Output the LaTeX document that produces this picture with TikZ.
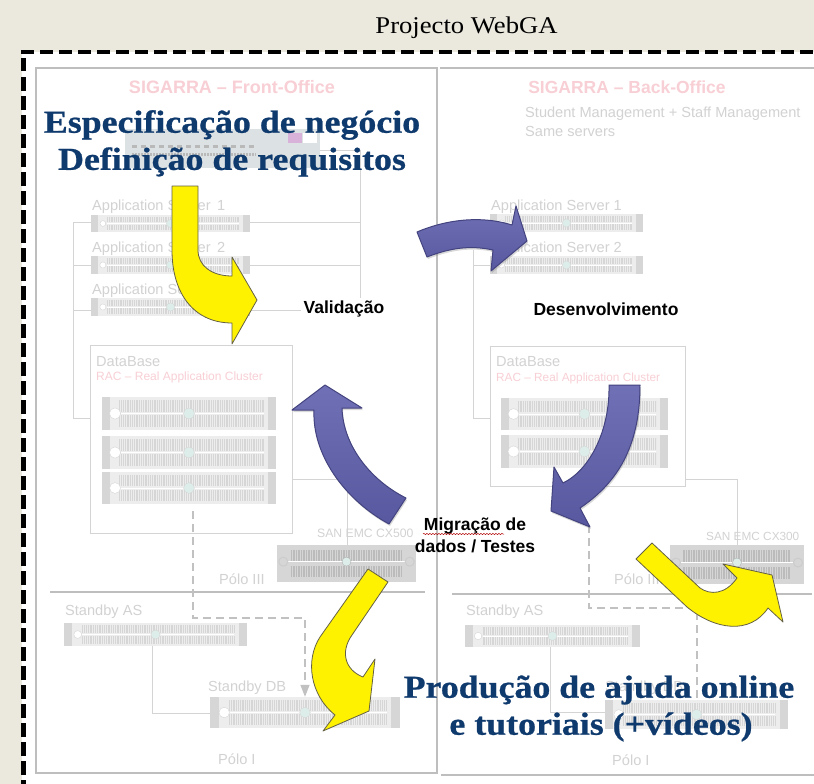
\documentclass[tikz,border=0pt]{standalone}
\usepackage{fontspec}
\setmainfont{Liberation Serif}
\setsansfont{Liberation Sans}
\newfontface\bigf{Liberation Serif Bold}[FakeBold=0.7]
\usetikzlibrary{fit,calc,shadows,arrows.meta,decorations.pathmorphing}
\definecolor{pagebg}{HTML}{EBE8DD}
\definecolor{faint}{HTML}{D4D4D4}
\definecolor{panelc}{HTML}{BEBEBE}
\definecolor{srvc}{HTML}{EDEDED}
\definecolor{srvd}{HTML}{D6D6D6}
\definecolor{pinkc}{HTML}{F8CFD5}
\definecolor{greyt}{HTML}{D2D2D2}
\definecolor{navy}{HTML}{0F3A6E}
\definecolor{bluetop}{HTML}{7070B6}
\definecolor{bluebot}{HTML}{5858A0}
\definecolor{blueedge}{HTML}{43437F}
\definecolor{mint}{HTML}{DDEEEA}
\tikzset{
  x=1pt,y=-1pt,
  srvbox/.style={fill=srvc,draw=none,inner sep=0pt},
  wire/.style={draw=faint,line width=.9pt},
  dashwire/.style={draw=srvd!90!black,line width=1.3pt,dash pattern=on 8pt off 5pt},
  panel/.style={draw=panelc,line width=1.1pt},
  dbbox/.style={draw=faint,line width=1pt,fill=white,inner sep=0pt},
  lbl/.style={font=\sffamily\fontsize{14.6}{15}\selectfont,text=greyt,anchor=west,inner sep=0pt,yshift=-1.5pt},
  rac/.style={font=\sffamily\fontsize{12}{13}\selectfont,text=pinkc,anchor=west,inner sep=0pt,yshift=-1pt},
  headt/.style={font=\sffamily\bfseries\fontsize{18}{19}\selectfont,text=pinkc,inner sep=0pt},
  blk/.style={font=\sffamily\bfseries\fontsize{17.5}{19}\selectfont,text=black,inner sep=0pt},
  bigt/.style={font=\bigf\fontsize{32}{36}\selectfont,text=navy,inner sep=0pt,xscale=1.12,yshift=-2pt},
  yarrow/.style={fill=yellow,draw=black!70!yellow,line width=.8pt,line join=round},
  barrow/.style={top color=bluetop,bottom color=bluebot,
     draw=blueedge,line width=1pt,line join=round,drop shadow={shadow xshift=1pt,shadow yshift=-2pt,opacity=.3}},
}
\newcommand{\srv}[5]{%
  \node[srvbox,fit={(#2,#3) (#4,#5)}] (#1) {};
  \pgfmathsetmacro{\srvw}{#4-#2}\pgfmathsetmacro{\srvh}{#5-#3}
  \fill[srvd] (#2,#3) rectangle ({#2+.045*\srvw},#5);
  \fill[srvd] ({#4-.045*\srvw},#3) rectangle (#4,#5);
  \foreach \f in {.27,.73}{
    \draw[draw=srvd,line width={.34*\srvh*1pt},dash pattern=on .9pt off .9pt]
      ({#2+.1*\srvw},{#3+\f*\srvh}) -- ({#4-.07*\srvw},{#3+\f*\srvh});}
  \fill[white] ({#2+.1*\srvw},{#3+.5*\srvh-.5}) rectangle ({#4-.07*\srvw},{#3+.5*\srvh+.5});
  \fill[mint,draw=srvd] ({#2+.5*\srvw},{#3+.5*\srvh}) circle ({.09*\srvh+2.5});
  \fill[white,draw=srvd] ({#2+.075*\srvw},{#3+.5*\srvh}) circle ({.17*\srvh});
}
\newcommand{\sandev}[5]{%
  \node[fill=srvd,draw=none,inner sep=0pt,fit={(#2,#3) (#4,#5)}] (#1) {};
  \pgfmathsetmacro{\srvw}{#4-#2}\pgfmathsetmacro{\srvh}{#5-#3}
  \draw[draw=faint!70!gray,line width={.3*\srvh*1pt},dash pattern=on 1.5pt off 1pt]
    ({#2+.1*\srvw},{#3+.28*\srvh}) -- ({#4-.1*\srvw},{#3+.28*\srvh})
    ({#2+.1*\srvw},{#3+.72*\srvh}) -- ({#4-.1*\srvw},{#3+.72*\srvh});
  \draw[white,line width=.9pt] ({#2+.08*\srvw},{#3+.45*\srvh}) -- ({#4-.08*\srvw},{#3+.45*\srvh});
  \fill[mint,draw=gray!60] ({#2+.5*\srvw},{#3+.45*\srvh}) circle (4.5);
  \draw[gray!40,line width=1pt] ({#2+.045*\srvw},{#3+.45*\srvh}) circle (4.5);
  \draw[gray!40,line width=1pt] ({#4-.045*\srvw},{#3+.45*\srvh}) circle (4.5);
}
\begin{document}
\begin{tikzpicture}
\useasboundingbox (0,0) rectangle (814,784);
\fill[pagebg] (0,0) rectangle (814,784);
\fill[white] (22,52) rectangle (814,784);
\node[font=\fontsize{24}{26}\selectfont,inner sep=0pt,xscale=1.11] (title) at (466.5,28) {Projecto WebGA};
\coordinate (fa) at (814,52); \coordinate (fc) at (23.5,784);
\draw[line width=4pt,dash pattern=on 13pt off 6pt] (21,52) -- (fa);
\draw[line width=4.5pt,dash pattern=on 13.5pt off 5.5pt] (23.5,58) -- (fc);
% panels
\node[panel,fit={(36,68) (437,773)},inner sep=0pt] (front) {};
\coordinate (ba) at (440,68); \coordinate (bb) at (814,68);
\coordinate (bc) at (441,775); \coordinate (bd) at (814,775);
\draw[panel] (ba) -- (bb); \draw[panel] (bc) -- (bd);
\node[headt] (fhead) at (232,87) {SIGARRA -- Front-Office};
\node[headt,font=\sffamily\bfseries\fontsize{17.5}{19}\selectfont] (bhead) at (627,87) {SIGARRA -- Back-Office};
\node[lbl] (bsub1) at (525,112) {Student Management + Staff Management};
\node[lbl] (bsub2) at (525,130) {Same servers};
% top switch, front
\node[fit={(125,129) (320,168)},fill=cyan!12!gray!28,inner sep=0pt] (sw) {};
\fill[violet!30] (288,133) rectangle (302,143);
\fill[white] (303,133) rectangle (317,143);
\draw[gray!55,line width=3pt,dash pattern=on 5pt off 4pt] (132,146) -- (256,146);
\draw[gray!55,line width=3pt,dash pattern=on 2pt off 1pt] (132,154) -- (256,154);
% left wires
\coordinate (rbus) at (360,150); \coordinate (rbusb) at (360,310);
\coordinate (lbus) at (73,222);
\draw[wire] (sw.east |- rbus) -- (rbus) -- (rbusb) -- (73,310);
\draw[wire] (360,222) -- (lbus) -- (73,418) -- (90,418);
\draw[wire] (360,265) -- (73,265);
\node[lbl] (l1) at (92,205) {Application Server\, 1};
\node[lbl] (l2) at (92,247) {Application Server\, 2};
\node[lbl] (l3) at (92,289) {Application Server\, 3};
\srv{as1}{91}{215}{250}{232}
\srv{as2}{91}{256}{250}{274}
\srv{as3}{91}{298}{250}{316}
\node[dbbox,fit={(90.5,345) (292,533)}] (db) {};
\node[lbl] (dbl) at (96,360) {DataBase};
\node[rac] (racl) at (96,376) {RAC -- Real Application Cluster};
\srv{d1}{102}{397}{276}{430}
\srv{d2}{102}{436}{276}{469}
\srv{d3}{102}{472}{276}{504}
\coordinate (sanjl) at (347,479);
\sandev{san}{277}{545}{416}{582}
\draw[wire] (db.east |- sanjl) -- (sanjl) -- (sanjl |- san.north);
\node[lbl,font=\sffamily\fontsize{12.2}{14}\selectfont] (sanl) at (317,532) {SAN EMC CX500};
\node[lbl] (p3) at (219,578) {Pólo III};
\coordinate (sa) at (50,592); \coordinate (sb) at (425,592);
\draw[panel] (sa) -- (sb);
\coordinate (da) at (193,511); \coordinate (db1) at (193,618); \coordinate (db2) at (305,618);
\srv{sas}{64}{623}{247}{646}
\node[lbl] (sasl) at (65,610) {Standby AS};
\srv{sdb}{210}{697}{400}{728}
\node[lbl] (sdbl) at (208,686) {Standby DB};
\draw[dashwire,-{Triangle[length=12pt,width=9pt]}] (da) -- (db1) -- (db2) -- (db2 |- sdb.north);
\coordinate (sj1) at (152,713);
\draw[wire] (sas.south -| sj1) -- (sj1) -- (sdb.west |- sj1);
\node[lbl] (p1) at (218,758) {Pólo I};
% right column
\coordinate (rb) at (473,250);
\draw[wire] (rb) -- (473,418) -- (490,418);
\draw[wire] (473,265) -- (490,265);
\node[lbl] (rl1) at (491,205) {Application Server 1};
\node[lbl] (rl2) at (491,247) {Application Server 2};
\srv{ras1}{490}{214}{643}{232}
\srv{ras2}{490}{256}{643}{274}
\node[dbbox,fit={(490,346) (685,486)}] (rdb) {};
\node[lbl] (rdbl) at (496,360) {DataBase};
\node[rac,font=\sffamily\fontsize{11.8}{13}\selectfont] (rracl) at (496,377) {RAC -- Real Application Cluster};
\srv{rd1}{501}{398}{668}{430}
\srv{rd2}{501}{435}{668}{468}
\coordinate (rsanj) at (737,479);
\sandev{rsan}{670}{545}{804}{584}
\draw[wire] (rdb.east |- rsanj) -- (rsanj) -- (rsanj |- rsan.north);
\node[lbl,font=\sffamily\fontsize{11.8}{14}\selectfont] (rsanl) at (706,535) {SAN EMC CX300};
\node[lbl] (rp3) at (614,578) {Pólo III};
\coordinate (rsa) at (452,594); \coordinate (rsb) at (812,594);
\draw[panel] (rsa) -- (rsb);
\srv{rsas}{465}{625}{640}{647}
\node[lbl] (rsasl) at (466,610) {Standby AS};
\srv{rsdb}{605}{700}{788}{729}
\node[lbl] (rsdbl) at (605,686) {Standby DB};
\coordinate (rda) at (589,525); \coordinate (rdb1) at (589,608); \coordinate (rdb2) at (697,608);
\draw[dashwire] (rda) -- (rdb1) -- (rdb2) -- (rdb2 |- rsdb.north);
\coordinate (rj1) at (550,712);
\draw[wire] (rsas.south -| rj1) -- (rj1) -- (rsdb.west |- rj1);
\node[lbl] (rp1) at (612,759) {Pólo I};
% blue arrows
\path[barrow] (417,232) .. controls (445,220) and (480,215) .. (512,225)
  -- (516,206) -- (527,241) -- (491,271) -- (493,250)
  .. controls (470,245) and (450,248) .. (427,257) -- cycle;
\path[barrow] (609,385) -- (640,385) .. controls (640,440) and (622,480) .. (580,508)
  -- (590,527) -- (551,511) -- (554,467) -- (563,483)
  .. controls (590,470) and (610,430) .. (609,385) -- cycle;
\path[barrow] (406,498) -- (389,524) .. controls (345,500) and (312,455) .. (314,410)
  -- (292,410) -- (325,385) -- (362,408) -- (342,408)
  .. controls (343,445) and (370,480) .. (406,498) -- cycle;
% yellow arrows
\path[yarrow] (172,186) -- (198,186) -- (198,250) .. controls (198,266) and (212,276) .. (232,276)
  -- (232,257) -- (257,300) -- (232,344) -- (232,323)
  .. controls (195,323) and (172,295) .. (172,250) -- cycle;
\path[yarrow] (368,569) -- (388,582) -- (352,635) .. controls (340,652) and (345,670) .. (363,677)
  -- (375,659) -- (369,711) -- (323,731) -- (335,715)
  .. controls (310,695) and (305,660) .. (320,637) -- cycle;
\path[yarrow] (652,543) -- (636,559) -- (687,607) .. controls (715,630) and (750,635) .. (768,608)
  -- (783,622) -- (772,575) -- (723,564) -- (737,578)
  .. controls (725,595) and (710,595) .. (700,588) -- cycle;
% texts on top
\node[blk,fill=white,inner sep=3pt] (val) at (344,309) {Validação};
\node[blk] (des) at (606,309) {Desenvolvimento};
\node[blk] (mig1) at (475,526) {Migração de};
\node[blk] (mig2) at (475,546) {dados / Testes};
\coordinate (sq1) at (423,534); \coordinate (sq2) at (504,534);
\draw[red!70!black,line width=.5pt,decorate,decoration={snake,amplitude=.6pt,segment length=3pt}] (sq1) -- (sq2);
\node[bigt] (b1) at (232,123) {Especificação de negócio};
\node[bigt] (b2) at (232,160) {Definição de requisitos};
\node[bigt] (b3) at (599,688) {Produção de ajuda online};
\node[bigt] (b4) at (601,725) {e tutoriais (+vídeos)};
\end{tikzpicture}
\end{document}
